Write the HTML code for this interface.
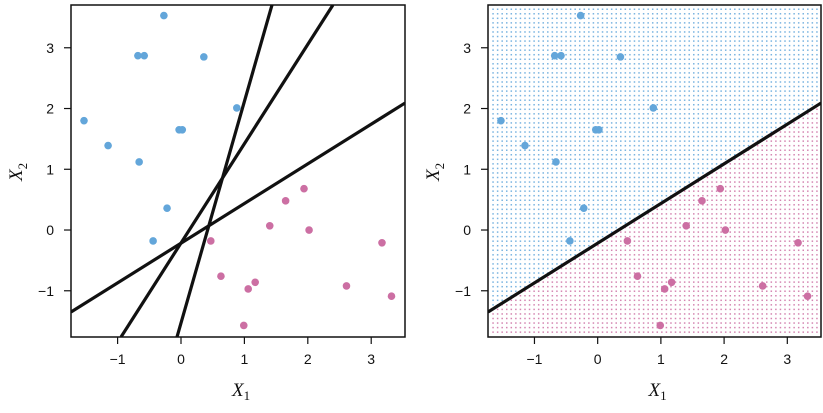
<!DOCTYPE html>
<html><head><meta charset="utf-8"><style>
html,body{margin:0;padding:0;background:#fff;width:823px;height:413px;overflow:hidden;}
svg{display:block;font-family:"Liberation Sans",sans-serif;overflow:hidden;}
</style></head><body>
<svg id="chart" width="823" height="413" viewBox="0 0 823 413"></svg>
<script>
const blueX=[-0.27,-0.68,-0.58,0.36,0.88,-1.53,-1.15,-0.03,0.02,-0.66,-0.22,-0.44];
const blueY=[3.53,2.87,2.87,2.85,2.01,1.80,1.39,1.65,1.65,1.12,0.36,-0.18];
const pinkX=[1.94,1.65,1.40,0.47,2.02,0.63,1.17,1.06,0.99,2.61,3.17,3.32];
const pinkY=[0.68,0.48,0.07,-0.18,0.00,-0.76,-0.86,-0.97,-1.57,-0.92,-0.21,-1.09];
const lineSlopes=[0.653,1.635,3.648];
const lineIntercepts=[-0.217,-0.214,-1.531];
const xTicks=[-1,0,1,2,3];
const yTicks=[-1,0,1,2,3];
const xTickLabels=["\u22121","0","1","2","3"];
const yTickLabels=["\u22121","0","1","2","3"];
const xMin=-1.735,xMax=3.533,yMin=-1.761,yMax=3.704;

const NS="http://www.w3.org/2000/svg";
const svg=document.getElementById('chart');
function mk(tag,attrs,parent){const e=document.createElementNS(NS,tag);for(const k in attrs)e.setAttribute(k,attrs[k]);(parent||svg).appendChild(e);return e;}
const BLUE="#63a6da",PINK="#cc6fa3";

function panel(x0,x1,name,withLines,withGrid){
  const y0=5,y1=337;
  const g=mk('g',{});
  
  
  const sx=v=>x0+(v-xMin)/(xMax-xMin)*(x1-x0);
  const sy=v=>y1-(v-yMin)/(yMax-yMin)*(y1-y0);
  const clipId='clip-'+name;
  const cp=mk('clipPath',{id:clipId},g);mk('rect',{x:x0,y:y0,width:x1-x0,height:y1-y0},cp);
  const plot=mk('g',{'clip-path':'url(#'+clipId+')'},g);
  if(withGrid){
    const gg=mk('g',{},plot);
    
    
    const step=(xMax-xMin)/73;
    for(let i=0;i<=73;i++){for(let j=0;j<=73;j++){
      const dx=xMin+0.08+i*step, dy=yMin+0.08+j*(yMax-yMin)/73;
      if(dy>yMax-0.05||dx>xMax-0.03) continue;
      const above=dy>lineIntercepts[0]+lineSlopes[0]*dx;
      mk('rect',{x:sx(dx)-0.75,y:sy(dy)-0.75,width:1.5,height:1.5,fill:above?"#78b3e0":"#d485b1"},gg);
    }}
  }
  const nl=withLines?3:1;
  for(let k=0;k<nl;k++){
    const m=lineSlopes[k],b=lineIntercepts[k];
    let xa=Math.max(xMin,(yMin-b)/m), xb=Math.min(xMax,(yMax-b)/m);
    const l=mk('line',{x1:sx(xa),y1:sy(b+m*xa),x2:sx(xb),y2:sy(b+m*xb),stroke:"#111",'stroke-width':3.2},plot);
    
    
  }
  for(let i=0;i<blueX.length;i++){
    const c=mk('circle',{cx:sx(blueX[i]),cy:sy(blueY[i]),r:3.8,fill:BLUE},plot);
    
    
  }
  for(let i=0;i<pinkX.length;i++){
    const c=mk('circle',{cx:sx(pinkX[i]),cy:sy(pinkY[i]),r:3.8,fill:PINK},plot);
    
    
  }
  mk('rect',{x:x0,y:y0,width:x1-x0,height:y1-y0,fill:'none',stroke:'#111','stroke-width':1.5},g);
  xTicks.forEach((t,i)=>{
    mk('line',{x1:sx(t),y1:y1,x2:sx(t),y2:y1+7,stroke:'#111','stroke-width':1.2},g);
    const tx=mk('text',{x:sx(t),y:y1+27,'text-anchor':'middle','font-size':14,fill:'#111'},g);
    tx.textContent=xTickLabels[i];
    
    
  });
  yTicks.forEach((t,i)=>{
    mk('line',{x1:x0,y1:sy(t),x2:x0-7,y2:sy(t),stroke:'#111','stroke-width':1.2},g);
    const tx=mk('text',{x:x0-17,y:sy(t)+5,'text-anchor':'end','font-size':14,fill:'#111'},g);
    tx.textContent=yTickLabels[i];
    
    
  });
  const xt=mk('text',{x:(x0+x1)/2-6,y:396,'font-size':19,'font-style':'italic','font-family':'Liberation Serif,serif',fill:'#111'},g);
  xt.innerHTML='X<tspan font-size="13" dy="4" font-style="normal">1</tspan>';
  
  
  const yt=mk('text',{transform:`translate(${x0-49},${(y0+y1)/2+10}) rotate(-90)`,'font-size':19,'font-style':'italic','font-family':'Liberation Serif,serif',fill:'#111'},g);
  yt.innerHTML='X<tspan font-size="13" dy="5" font-style="normal">2</tspan>';
  
  
}
panel(71,405,'left-panel',true,false);
panel(488,821,'right-panel',false,true);
</script>
</body></html>
